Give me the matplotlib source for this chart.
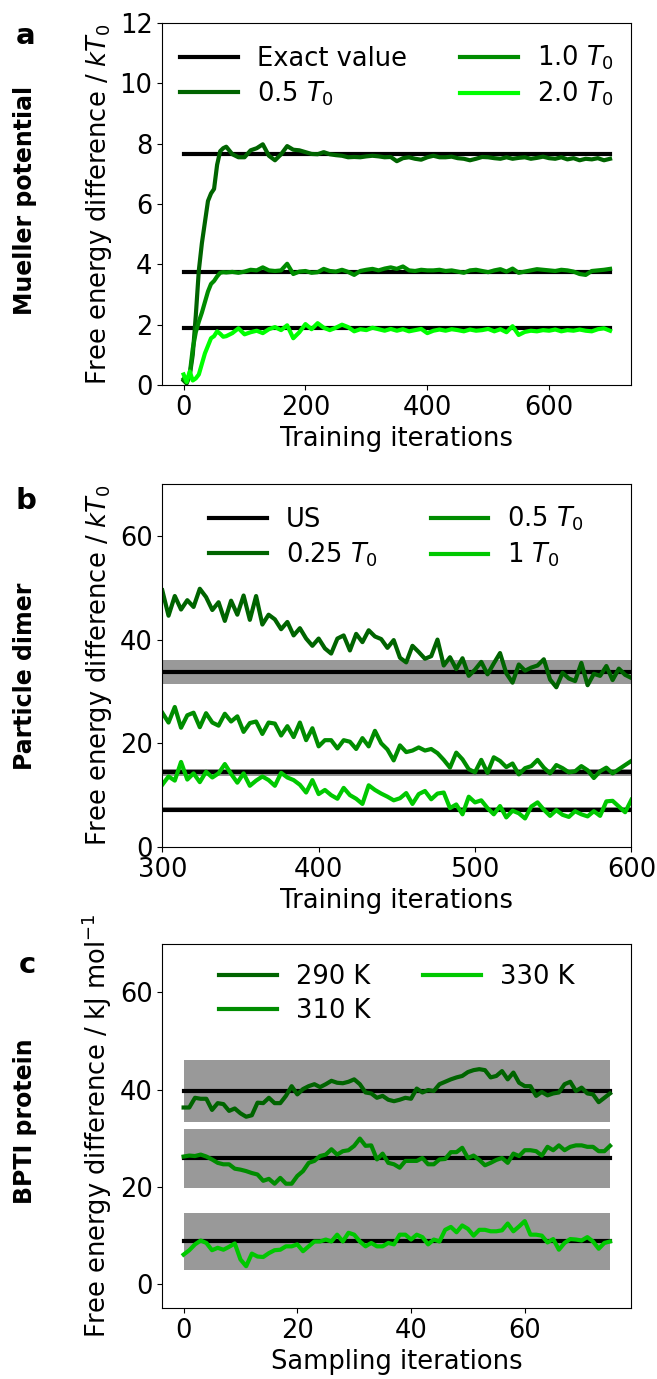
import numpy as np
import matplotlib
matplotlib.use('Agg')
import matplotlib.pyplot as plt

# ---- panel a: Mueller potential ----
a_iter = np.r_[np.arange(0, 70, 5), np.arange(70, 701, 10)]
a_exact = [7.65, 3.75, 1.88]
a_05 = [0.15, 0.05, 0.3, 1.0, 2.3, 3.8, 4.7, 5.4, 6.1, 6.35, 6.5, 7.3, 7.75, 7.85,
        7.9, 7.65, 7.55, 7.55, 7.78, 7.85, 7.98, 7.6, 7.45, 7.65, 7.92,
        7.8, 7.78, 7.72, 7.66, 7.65, 7.72, 7.65, 7.62, 7.6, 7.55,
        7.56, 7.55, 7.58, 7.6, 7.58, 7.55, 7.56, 7.42, 7.52, 7.55,
        7.5, 7.47, 7.55, 7.6, 7.55, 7.55, 7.57, 7.52, 7.5, 7.45,
        7.5, 7.56, 7.55, 7.52, 7.5, 7.55, 7.5, 7.53, 7.55, 7.5,
        7.53, 7.57, 7.52, 7.5, 7.55, 7.48, 7.52, 7.45, 7.5, 7.48,
        7.52, 7.45, 7.5]
a_10 = [0.2, 0.1, 0.35, 1.2, 1.75, 2.1, 2.4, 2.75, 3.1, 3.35, 3.45, 3.6, 3.72, 3.74,
        3.73, 3.75, 3.72, 3.76, 3.82, 3.8, 3.9, 3.8, 3.78, 3.8, 4.02,
        3.68, 3.76, 3.78, 3.72, 3.74, 3.85, 3.78, 3.76, 3.82, 3.75,
        3.65, 3.78, 3.82, 3.85, 3.8, 3.86, 3.9, 3.85, 3.93, 3.8,
        3.78, 3.82, 3.8, 3.8, 3.82, 3.78, 3.8, 3.76, 3.72, 3.8,
        3.82, 3.78, 3.74, 3.8, 3.84, 3.76, 3.86, 3.72, 3.76, 3.8,
        3.84, 3.82, 3.8, 3.78, 3.82, 3.8, 3.76, 3.68, 3.65, 3.78,
        3.8, 3.82, 3.85]
a_20 = [0.35, 0.1, 0.45, 0.15, 0.22, 0.35, 0.7, 1.05, 1.3, 1.55, 1.62, 1.78, 1.7, 1.6,
        1.62, 1.72, 1.88, 1.68, 1.75, 1.8, 1.72, 1.85, 1.92, 1.82, 1.98,
        1.55, 1.75, 2.02, 1.85, 2.05, 1.9, 1.82, 1.9, 2.0, 1.92,
        1.78, 1.85, 1.82, 1.9, 1.85, 1.8, 1.86, 1.8, 1.85, 1.78,
        1.82, 1.86, 1.72, 1.8, 1.84, 1.8, 1.85, 1.82, 1.78, 1.84,
        1.8, 1.82, 1.86, 1.78, 1.85, 1.75, 1.95, 1.66, 1.76, 1.8,
        1.78, 1.82, 1.8, 1.84, 1.78, 1.82, 1.8, 1.84, 1.8, 1.78,
        1.85, 1.88, 1.8]

# ---- panel b: particle dimer ----
b_iter = np.arange(300, 601, 4)
b_us = [33.8, 14.4, 7.2]
b_us_err = [2.3, 0.7, 0.45]
b_025 = [49.5, 44.6, 48.4, 45.8, 47.6, 46.3, 49.8, 48.2, 45.7, 47.2,
         43.6, 47.5, 44.8, 48.5, 43.8, 48.4, 42.9, 44.8, 43.9, 42.0,
         43.4, 40.8, 42.2, 40.2, 38.8, 40.2, 38.3, 37.3, 40.2, 40.8,
         37.9, 41.1, 39.5, 41.8, 40.6, 40.1, 38.4, 39.9, 36.5, 35.6,
         38.8, 37.6, 36.3, 36.8, 40.0, 35.0, 36.6, 34.3, 36.4, 33.0,
         34.2, 35.7, 33.3, 35.4, 37.4, 33.5, 31.7, 35.2, 34.0, 34.6,
         35.0, 36.2, 32.3, 30.8, 33.6, 32.5, 32.0, 35.5, 31.2, 33.4,
         33.0, 34.9, 32.2, 34.4, 33.2, 32.6]
b_05 = [25.9, 24.0, 27.0, 23.0, 25.4, 25.9, 23.1, 25.8, 24.0, 23.4,
        25.7, 24.2, 25.2, 22.2, 23.9, 24.2, 21.8, 24.0, 23.8, 21.5,
        23.3, 21.2, 24.0, 20.6, 22.9, 19.4, 20.6, 20.6, 19.0, 20.6,
        20.3, 18.9, 21.0, 19.4, 22.4, 20.0, 18.8, 16.7, 19.6, 18.3,
        18.6, 19.2, 18.6, 18.9, 18.1, 16.8, 15.3, 18.2, 16.9, 15.0,
        14.4, 16.8, 14.3, 17.3, 16.6, 15.4, 16.1, 14.0, 15.2, 15.6,
        16.8, 15.3, 14.2, 15.8, 15.2, 14.4, 14.6, 15.6, 14.8, 13.3,
        14.6, 15.3, 14.2, 15.0, 15.8, 16.6]
b_1 = [12.0, 13.6, 12.8, 16.4, 13.0, 14.2, 12.5, 14.5, 13.4, 14.2,
       16.0, 14.1, 12.4, 14.2, 11.8, 12.8, 13.6, 12.9, 11.8, 14.3,
       13.4, 12.9, 12.0, 10.5, 12.9, 10.2, 11.0, 10.0, 9.3, 11.4,
       10.0, 9.3, 8.3, 11.9, 11.0, 10.3, 9.7, 9.0, 9.4, 10.4,
       8.3, 10.2, 10.8, 9.2, 10.3, 10.5, 7.5, 8.2, 6.3, 9.7,
       8.6, 9.0, 7.5, 6.3, 7.9, 5.7, 7.0, 6.5, 5.5, 7.8,
       8.6, 7.2, 6.0, 7.1, 6.2, 5.8, 6.9, 6.3, 5.9, 6.9,
       6.0, 8.8, 8.9, 7.8, 6.7, 9.1]

# ---- panel c: BPTI protein ----
c_iter = np.arange(0, 76)
c_ref = [39.7, 25.8, 8.8]
c_lo = [33.3, 19.7, 2.9]
c_hi = [46.0, 31.9, 14.6]
c_290 = [36.3, 36.3, 38.3, 38.1, 38.1, 35.8, 37.2, 37.0, 35.6, 36.1,
         35.1, 34.4, 34.7, 37.3, 37.2, 38.3, 37.2, 37.2, 38.7, 40.7,
         39.0, 40.1, 40.7, 41.1, 40.5, 41.1, 41.8, 41.4, 41.3, 41.6,
         42.1, 41.1, 39.4, 39.2, 38.3, 38.7, 37.9, 37.6, 37.9, 38.3,
         38.1, 40.2, 39.4, 39.9, 39.7, 41.1, 41.6, 42.1, 42.5, 42.8,
         43.6, 44.0, 44.2, 44.0, 42.5, 42.8, 43.8, 42.1, 43.5, 41.4,
         40.7, 40.7, 38.7, 39.5, 38.8, 39.2, 39.4, 41.1, 41.6, 39.7,
         40.4, 39.2, 39.0, 37.4, 38.3, 39.2]
c_310 = [26.2, 26.4, 26.3, 26.6, 26.2, 25.6, 24.9, 24.6, 24.6, 23.7,
         23.5, 23.2, 22.8, 22.5, 21.2, 21.6, 20.6, 21.8, 20.6, 20.6,
         22.2, 23.2, 24.9, 25.3, 26.3, 26.6, 27.7, 26.6, 27.3, 27.5,
         28.4, 29.9, 28.4, 28.5, 25.6, 26.8, 24.9, 24.6, 23.9, 25.3,
         25.3, 25.3, 25.9, 24.6, 24.6, 25.6, 25.7, 27.1, 27.1, 28.0,
         25.9, 26.4, 25.5, 24.4, 24.9, 25.5, 25.9, 24.9, 26.8, 26.3,
         27.5, 27.5, 27.3, 26.4, 28.2, 27.5, 28.5, 27.5, 28.2, 28.5,
         28.5, 28.2, 28.2, 27.3, 27.3, 28.4]
c_330 = [6.0, 6.9, 8.1, 8.9, 8.4, 6.9, 7.4, 7.0, 7.6, 8.3,
         5.0, 3.6, 6.2, 5.6, 5.5, 6.3, 6.9, 7.0, 7.7, 7.7,
         8.1, 6.7, 7.7, 8.7, 8.7, 9.1, 8.7, 10.1, 8.7, 10.5,
         10.1, 8.7, 7.7, 8.4, 7.7, 7.7, 8.4, 8.1, 10.1, 10.1,
         9.1, 10.1, 9.6, 8.1, 9.1, 8.7, 11.1, 11.7, 10.6, 12.0,
         11.3, 9.9, 11.1, 11.1, 10.8, 10.8, 11.0, 12.4, 10.8, 11.8,
         12.9, 10.1, 10.1, 9.9, 8.5, 9.2, 7.0, 8.4, 9.2, 9.1,
         8.9, 9.6, 8.7, 7.2, 8.4, 8.7]

dark = '#006400'
mid = '#008c00'
light_a = '#00ff00'
light = '#00c800'
band = '#999999'
lw = 3

plt.rcParams['font.size'] = 18.5

fig = plt.figure(figsize=(6.57, 13.79), dpi=100)
left, width = 0.247, 0.714
ax_a = fig.add_axes([left, 0.7208, width, 0.2625])
ax_b = fig.add_axes([left, 0.3858, width, 0.2632])
ax_c = fig.add_axes([left, 0.0515, width, 0.2640])

leg_kw = dict(loc='upper center', ncol=2, frameon=False, handlelength=2.25,
              handletextpad=0.74, columnspacing=2.05, labelspacing=0.3,
              borderaxespad=0.4, fontsize=18.5)

# panel a
for i, v in enumerate(a_exact):
    ax_a.plot([a_iter[0], a_iter[-1]], [v, v], color='k', lw=lw,
              label='Exact value' if i == 0 else None)
ax_a.plot(a_iter, a_05, color=dark, lw=lw, label=r'0.5 $T_0$')
ax_a.plot(a_iter, a_10, color=mid, lw=lw, label=r'1.0 $T_0$')
ax_a.plot(a_iter, a_20, color=light_a, lw=lw, label=r'2.0 $T_0$')
ax_a.set_ylim(0, 12)
ax_a.set_xticks([0, 200, 400, 600])
ax_a.set_yticks(np.arange(0, 13, 2))
ax_a.set_xlabel('Training iterations')
ax_a.set_ylabel(r'Free energy difference / $kT_0$')
ax_a.legend(**leg_kw)

# panel b
for i, (v, e) in enumerate(zip(b_us, b_us_err)):
    ax_b.fill_between([b_iter[0], b_iter[-1]], v - e, v + e, color=band, lw=0)
    ax_b.plot([b_iter[0], b_iter[-1]], [v, v], color='k', lw=lw,
              label='US' if i == 0 else None)
ax_b.plot(b_iter, b_025, color=dark, lw=lw, label=r'0.25 $T_0$')
ax_b.plot(b_iter, b_05, color=mid, lw=lw, label=r'0.5 $T_0$')
ax_b.plot(b_iter, b_1, color=light, lw=lw, label=r'1 $T_0$')
ax_b.set_xlim(300, 600)
ax_b.set_ylim(0, 70)
ax_b.set_xticks([300, 400, 500, 600])
ax_b.set_yticks([0, 20, 40, 60])
ax_b.set_xlabel('Training iterations')
ax_b.set_ylabel(r'Free energy difference / $kT_0$')
ax_b.legend(**leg_kw)

# panel c
for v, lo, hi in zip(c_ref, c_lo, c_hi):
    ax_c.fill_between([c_iter[0], c_iter[-1]], lo, hi, color=band, lw=0)
    ax_c.plot([c_iter[0], c_iter[-1]], [v, v], color='k', lw=lw)
ax_c.plot(c_iter, c_290, color=dark, lw=lw, label='290 K')
ax_c.plot(c_iter, c_310, color=mid, lw=lw, label='310 K')
ax_c.plot(c_iter, c_330, color=light, lw=lw, label='330 K')
ax_c.set_ylim(-5, 70)
ax_c.set_xticks([0, 20, 40, 60])
ax_c.set_yticks([0, 20, 40, 60])
ax_c.set_xlabel('Sampling iterations')
ax_c.set_ylabel(r'Free energy difference / kJ mol$^{-1}$')
ax_c.legend(**leg_kw)

H = 1379.0
fig.text(25.5 / 657, 1 - 36 / H, 'a', fontsize=21, fontweight='bold', ha='center', va='center')
fig.text(25.5 / 657, 1 - 501 / H, 'b', fontsize=21, fontweight='bold', ha='center', va='center')
fig.text(27 / 657, 1 - 965 / H, 'c', fontsize=21, fontweight='bold', ha='center', va='center')
fig.text(25.5 / 657, 1 - 200 / H, 'Mueller potential', fontsize=17, fontweight='bold',
         rotation=90, ha='center', va='center')
fig.text(25.5 / 657, 1 - 676 / H, 'Particle dimer', fontsize=17, fontweight='bold',
         rotation=90, ha='center', va='center')
fig.text(25.5 / 657, 1 - 1121 / H, 'BPTI protein', fontsize=17, fontweight='bold',
         rotation=90, ha='center', va='center')

fig.savefig('out.png', dpi=100)
